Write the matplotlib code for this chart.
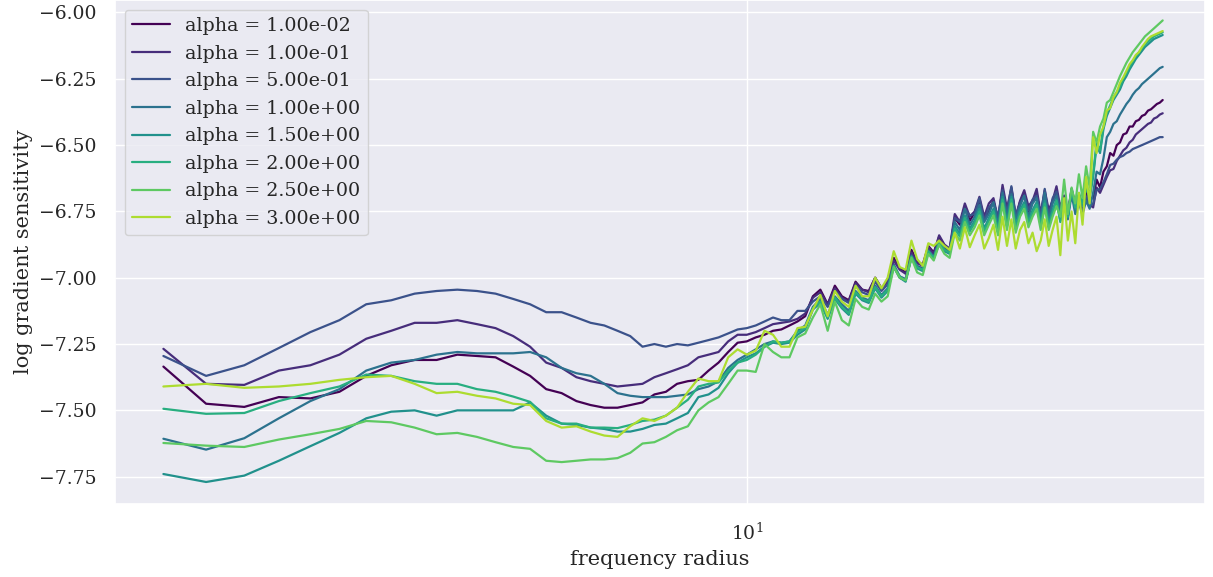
import numpy as np
import matplotlib
matplotlib.use("Agg")
import matplotlib.pyplot as plt
import seaborn as sns

# frequency radius bins
radius = np.arange(2.0, 31.51, 0.25)

alphas = [0.01, 0.1, 0.5, 1.0, 1.5, 2.0, 2.5, 3.0]

# log gradient sensitivity per alpha
sens_001 = [
    -7.335, -7.475, -7.487, -7.45, -7.455, -7.43, -7.37, -7.33, -7.31, -7.31, -7.29, -7.295, -7.30, -7.335, -7.37, -7.42,
    -7.435, -7.465, -7.48, -7.49, -7.49, -7.48, -7.47, -7.44, -7.43, -7.40, -7.39, -7.385, -7.35, -7.32, -7.28, -7.245,
    -7.24, -7.225, -7.215, -7.20, -7.195, -7.18, -7.165, -7.145, -7.07, -7.045, -7.10, -7.03, -7.07, -7.085, -7.015, -7.045,
    -7.05, -7.0, -7.04, -7.01, -6.925, -6.965, -6.98, -6.895, -6.94, -6.95, -6.88, -6.905, -6.845, -6.88, -6.895,
    -6.775, -6.80, -6.735, -6.785, -6.755, -6.71, -6.785, -6.745, -6.71, -6.785, -6.665, -6.765, -6.665, -6.775, -6.715, -6.685,
    -6.755, -6.715, -6.685, -6.765, -6.68, -6.76, -6.71, -6.675, -6.75, -6.71, -6.755, -6.675, -6.73, -6.70, -6.73, -6.68, -6.70,
    -6.70, -6.63, -6.66, -6.60, -6.58, -6.53, -6.54, -6.50, -6.49, -6.46, -6.455, -6.43, -6.43, -6.41, -6.405, -6.39,
    -6.385, -6.37, -6.365, -6.355, -6.345, -6.34, -6.33,
]
sens_01 = [
    -7.268, -7.40, -7.404, -7.35, -7.33, -7.29, -7.23, -7.20, -7.17, -7.17, -7.16, -7.175, -7.19, -7.22, -7.26, -7.32,
    -7.34, -7.375, -7.39, -7.40, -7.41, -7.405, -7.40, -7.375, -7.36, -7.345, -7.33, -7.30, -7.29, -7.28, -7.24, -7.215,
    -7.215, -7.205, -7.19, -7.175, -7.17, -7.165, -7.155, -7.135, -7.075, -7.055, -7.10, -7.04, -7.075, -7.09, -7.02, -7.045,
    -7.055, -7.0, -7.04, -7.015, -6.935, -6.97, -6.985, -6.905, -6.945, -6.955, -6.885, -6.91, -6.84, -6.875, -6.89,
    -6.76, -6.79, -6.72, -6.77, -6.75, -6.695, -6.77, -6.72, -6.70, -6.78, -6.65, -6.74, -6.66, -6.77, -6.71, -6.67,
    -6.73, -6.71, -6.665, -6.76, -6.67, -6.745, -6.71, -6.655, -6.735, -6.69, -6.755, -6.665, -6.72, -6.71, -6.735, -6.69, -6.725,
    -6.735, -6.66, -6.68, -6.65, -6.62, -6.595, -6.59, -6.56, -6.54, -6.52, -6.51, -6.49, -6.48, -6.46, -6.45, -6.44,
    -6.43, -6.42, -6.415, -6.40, -6.395, -6.385, -6.38,
]
sens_05 = [
    -7.295, -7.37, -7.33, -7.265, -7.205, -7.16, -7.10, -7.085, -7.06, -7.05, -7.045, -7.05, -7.06, -7.08, -7.10, -7.13,
    -7.13, -7.15, -7.17, -7.18, -7.20, -7.22, -7.26, -7.25, -7.26, -7.25, -7.255, -7.245, -7.235, -7.225, -7.21, -7.195,
    -7.19, -7.18, -7.165, -7.15, -7.16, -7.16, -7.125, -7.125, -7.09, -7.07, -7.11, -7.05, -7.08, -7.095, -7.03, -7.055,
    -7.065, -7.015, -7.05, -7.025, -6.95, -6.995, -7.005, -6.915, -6.955, -6.965, -6.895, -6.92, -6.86, -6.89, -6.90,
    -6.775, -6.79, -6.74, -6.765, -6.76, -6.70, -6.785, -6.735, -6.715, -6.77, -6.67, -6.755, -6.655, -6.765, -6.72, -6.69,
    -6.745, -6.705, -6.69, -6.765, -6.665, -6.77, -6.70, -6.675, -6.74, -6.715, -6.76, -6.68, -6.735, -6.70, -6.755, -6.695, -6.73,
    -6.72, -6.67, -6.665, -6.64, -6.61, -6.575, -6.57, -6.555, -6.545, -6.54, -6.53, -6.525, -6.515, -6.51, -6.505, -6.50,
    -6.495, -6.49, -6.485, -6.48, -6.475, -6.47, -6.47,
]
sens_10 = [
    -7.607, -7.648, -7.605, -7.53, -7.465, -7.42, -7.35, -7.32, -7.31, -7.29, -7.28, -7.285, -7.285, -7.285, -7.28, -7.30,
    -7.34, -7.36, -7.37, -7.40, -7.435, -7.445, -7.45, -7.45, -7.45, -7.445, -7.44, -7.42, -7.41, -7.39, -7.34, -7.31,
    -7.29, -7.27, -7.25, -7.24, -7.245, -7.24, -7.20, -7.18, -7.11, -7.08, -7.14, -7.07, -7.10, -7.125, -7.05, -7.075,
    -7.085, -7.03, -7.065, -7.04, -6.955, -7.0, -7.01, -6.92, -6.96, -6.97, -6.90, -6.925, -6.865, -6.895, -6.905,
    -6.79, -6.82, -6.74, -6.80, -6.77, -6.725, -6.79, -6.76, -6.715, -6.80, -6.68, -6.77, -6.685, -6.78, -6.73, -6.69,
    -6.77, -6.72, -6.70, -6.78, -6.68, -6.785, -6.72, -6.69, -6.77, -6.72, -6.78, -6.685, -6.76, -6.72, -6.76, -6.71, -6.74,
    -6.68, -6.60, -6.61, -6.55, -6.47, -6.45, -6.42, -6.41, -6.385, -6.365, -6.345, -6.33, -6.31, -6.295, -6.285, -6.27,
    -6.26, -6.25, -6.24, -6.23, -6.22, -6.21, -6.205,
]
sens_15 = [
    -7.74, -7.77, -7.746, -7.69, -7.635, -7.585, -7.53, -7.505, -7.50, -7.52, -7.50, -7.50, -7.50, -7.50, -7.47, -7.52,
    -7.55, -7.555, -7.565, -7.57, -7.58, -7.58, -7.57, -7.555, -7.55, -7.53, -7.51, -7.45, -7.44, -7.415, -7.36, -7.32,
    -7.30, -7.285, -7.26, -7.245, -7.25, -7.245, -7.215, -7.195, -7.12, -7.095, -7.155, -7.08, -7.115, -7.14, -7.06, -7.085,
    -7.095, -7.04, -7.075, -7.05, -6.96, -7.0, -7.015, -6.925, -6.965, -6.975, -6.905, -6.93, -6.87, -6.90, -6.91,
    -6.805, -6.835, -6.765, -6.815, -6.785, -6.74, -6.815, -6.775, -6.74, -6.815, -6.695, -6.795, -6.695, -6.805, -6.745, -6.715,
    -6.785, -6.745, -6.715, -6.795, -6.71, -6.795, -6.745, -6.705, -6.785, -6.72, -6.77, -6.67, -6.74, -6.69, -6.73, -6.66, -6.70,
    -6.62, -6.50, -6.53, -6.44, -6.39, -6.36, -6.33, -6.31, -6.29, -6.26, -6.24, -6.215, -6.195, -6.175, -6.16, -6.145,
    -6.13, -6.12, -6.11, -6.10, -6.095, -6.09, -6.085,
]
sens_20 = [
    -7.494, -7.513, -7.51, -7.465, -7.435, -7.41, -7.365, -7.37, -7.39, -7.40, -7.40, -7.42, -7.43, -7.448, -7.468, -7.53,
    -7.55, -7.55, -7.565, -7.565, -7.567, -7.555, -7.54, -7.535, -7.52, -7.49, -7.46, -7.41, -7.40, -7.395, -7.35, -7.32,
    -7.31, -7.29, -7.26, -7.24, -7.245, -7.24, -7.205, -7.19, -7.115, -7.09, -7.15, -7.075, -7.11, -7.135, -7.055, -7.08,
    -7.09, -7.035, -7.07, -7.045, -6.955, -6.995, -7.01, -6.92, -6.96, -6.97, -6.90, -6.925, -6.865, -6.895, -6.905,
    -6.815, -6.845, -6.775, -6.825, -6.795, -6.75, -6.825, -6.785, -6.75, -6.825, -6.705, -6.805, -6.705, -6.815, -6.755, -6.725,
    -6.795, -6.755, -6.725, -6.805, -6.72, -6.805, -6.755, -6.71, -6.79, -6.72, -6.77, -6.665, -6.735, -6.68, -6.72, -6.645, -6.69,
    -6.61, -6.49, -6.52, -6.43, -6.38, -6.35, -6.32, -6.30, -6.28, -6.25, -6.23, -6.205, -6.185, -6.165, -6.15, -6.135,
    -6.12, -6.11, -6.10, -6.09, -6.085, -6.08, -6.075,
]
sens_25 = [
    -7.623, -7.633, -7.638, -7.61, -7.59, -7.57, -7.54, -7.545, -7.565, -7.59, -7.585, -7.60, -7.62, -7.638, -7.645, -7.69,
    -7.695, -7.69, -7.685, -7.685, -7.68, -7.66, -7.625, -7.62, -7.60, -7.575, -7.56, -7.50, -7.47, -7.45, -7.40, -7.35,
    -7.35, -7.355, -7.25, -7.28, -7.30, -7.30, -7.225, -7.21, -7.15, -7.10, -7.20, -7.09, -7.16, -7.18, -7.08, -7.11,
    -7.12, -7.06, -7.09, -7.07, -6.96, -7.0, -7.01, -6.925, -6.98, -6.99, -6.91, -6.935, -6.875, -6.91, -6.925,
    -6.83, -6.86, -6.79, -6.84, -6.81, -6.765, -6.84, -6.80, -6.765, -6.84, -6.72, -6.82, -6.72, -6.83, -6.77, -6.74,
    -6.81, -6.77, -6.74, -6.82, -6.735, -6.82, -6.77, -6.73, -6.77, -6.63, -6.76, -6.66, -6.72, -6.61, -6.70, -6.58, -6.66,
    -6.45, -6.49, -6.43, -6.40, -6.34, -6.33, -6.30, -6.27, -6.24, -6.215, -6.19, -6.17, -6.15, -6.135, -6.12, -6.105,
    -6.09, -6.08, -6.07, -6.06, -6.05, -6.04, -6.03,
]
sens_30 = [
    -7.41, -7.40, -7.415, -7.41, -7.40, -7.385, -7.375, -7.37, -7.40, -7.435, -7.43, -7.445, -7.455, -7.475, -7.48, -7.54,
    -7.565, -7.56, -7.58, -7.595, -7.60, -7.56, -7.53, -7.54, -7.52, -7.49, -7.43, -7.38, -7.39, -7.39, -7.30, -7.27,
    -7.29, -7.275, -7.20, -7.215, -7.26, -7.26, -7.19, -7.185, -7.12, -7.065, -7.145, -7.05, -7.09, -7.11, -7.03, -7.07,
    -7.07, -7.0, -7.04, -7.0, -6.90, -6.96, -6.97, -6.86, -6.93, -6.955, -6.87, -6.88, -6.86, -6.88, -6.895,
    -6.83, -6.89, -6.81, -6.885, -6.84, -6.80, -6.89, -6.85, -6.80, -6.895, -6.77, -6.88, -6.78, -6.89, -6.82, -6.79,
    -6.87, -6.83, -6.90, -6.86, -6.78, -6.88, -6.82, -6.77, -6.915, -6.70, -6.86, -6.75, -6.87, -6.68, -6.80, -6.62, -6.72,
    -6.47, -6.53, -6.46, -6.43, -6.37, -6.36, -6.32, -6.30, -6.265, -6.245, -6.22, -6.195, -6.18, -6.16, -6.15, -6.13,
    -6.115, -6.10, -6.09, -6.085, -6.08, -6.075, -6.07,
]

series = [sens_001, sens_01, sens_05, sens_10, sens_15, sens_20, sens_25, sens_30]

sns.set_theme(style="darkgrid")
plt.rcParams["font.family"] = ["DejaVu Serif"]

fig = plt.figure(figsize=(12.13, 5.77), dpi=100)
ax = fig.add_axes([115 / 1213, 73 / 577, 1090 / 1213, 504 / 577])

colors = plt.cm.viridis(np.arange(8) / 8)
for a, vals, c in zip(alphas, series, colors):
    ax.plot(radius, vals, color=c, lw=1.6, label=f"alpha = {a:.2e}")

ax.set_xscale("log")
ax.set_xlim(1.75, 35.4)
ax.set_ylim(-7.853, -5.953)
ax.tick_params(labelsize=13.5, pad=7.5)
ax.set_xlabel("frequency radius", fontsize=15)
ax.set_ylabel("log gradient sensitivity", fontsize=15)
ax.legend(loc="upper left", fontsize=13.7)

fig.savefig("out.png", dpi=100)
